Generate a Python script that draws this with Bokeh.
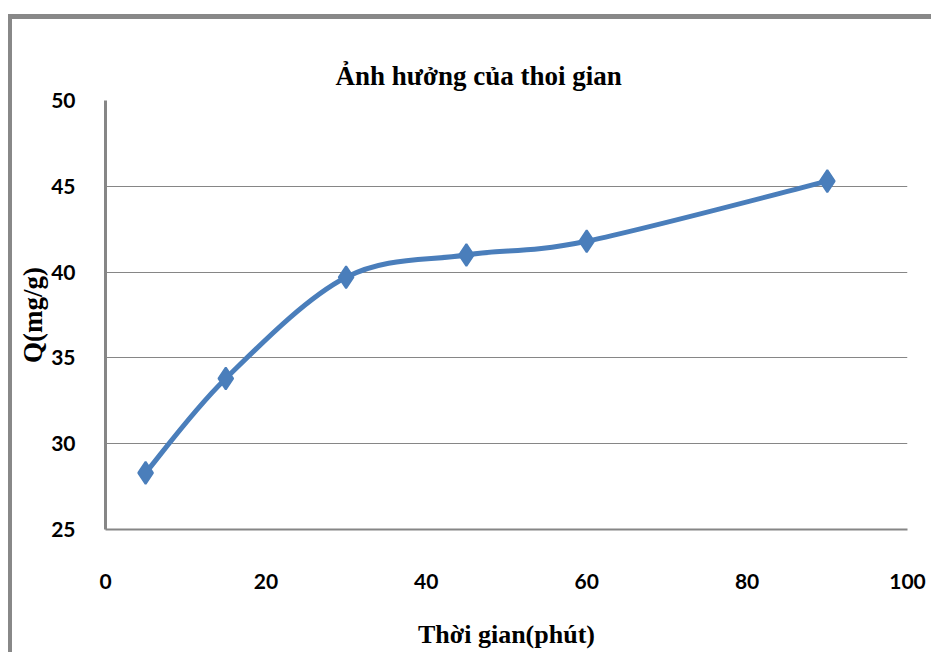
from bokeh.plotting import figure
from bokeh.models import Range1d, FixedTicker, InlineStyleSheet
from bokeh.embed import file_html
from bokeh.resources import INLINE

# Adsorption capacity over contact time
time_min = [5, 15, 30, 45, 60, 90]
q_mg_g = [28.3, 33.8, 39.7, 41.0, 41.8, 45.3]
x_ticks = [0, 20, 40, 60, 80, 100]
y_ticks = [25, 30, 35, 40, 45, 50]

BLUE = "#4a7ebb"
GRAY = "#868686"

p = figure(width=931, height=652, output_backend="svg", toolbar_location=None,
           x_range=Range1d(0, 100), y_range=Range1d(25, 50),
           min_border_left=105, min_border_right=24,
           min_border_top=100, min_border_bottom=123,
           title="Ảnh hưởng của thoi gian")
p.outline_line_color = None
p.background_fill_color = "white"
p.border_fill_color = "white"

p.title.align = "left"
p.title.offset = 230
p.title.standoff = 20
p.title.text_font = "Liberation Serif"
p.title.text_font_size = "27px"
p.title.text_font_style = "bold"
p.title.text_color = "black"

# axes
p.xaxis.ticker = FixedTicker(ticks=x_ticks)
p.yaxis.ticker = FixedTicker(ticks=y_ticks)
for ax in (p.xaxis, p.yaxis):
    ax.major_tick_line_color = None
    ax.minor_tick_line_color = None
    ax.axis_line_color = GRAY
    ax.major_label_text_font = "Lato"
    ax.major_label_text_font_size = "21px"
    ax.major_label_text_font_style = "bold"
    ax.major_label_text_color = "black"
    ax.axis_label_text_font = "Liberation Serif"
    ax.axis_label_text_font_style = "bold"
    ax.axis_label_text_color = "black"
p.xaxis.axis_label_text_font_size = "26px"
p.yaxis.axis_label_text_font_size = "27px"
p.yaxis.axis_line_width = 3
p.xaxis.axis_line_width = 2
p.yaxis.major_label_standoff = 24
p.xaxis.major_label_standoff = 38
p.xaxis.axis_label = "Thời gian(phút)"
p.yaxis.axis_label = "Q(mg/g)"
p.xaxis.axis_label_standoff = 28
p.yaxis.axis_label_standoff = 0

p.xgrid.grid_line_color = None
p.ygrid.grid_line_color = GRAY
p.ygrid.grid_line_width = 1

# smoothed curve through the points (Catmull-Rom as cubic Bezier segments)
n = len(time_min)
x0, y0, x1, y1, cx0, cy0, cx1, cy1 = ([] for _ in range(8))
for i in range(n - 1):
    pa = (time_min[max(i - 1, 0)], q_mg_g[max(i - 1, 0)])
    pb = (time_min[i], q_mg_g[i])
    pc = (time_min[i + 1], q_mg_g[i + 1])
    pd = (time_min[min(i + 2, n - 1)], q_mg_g[min(i + 2, n - 1)])
    x0.append(pb[0]); y0.append(pb[1])
    x1.append(pc[0]); y1.append(pc[1])
    cx0.append(pb[0] + (pc[0] - pa[0]) / 6); cy0.append(pb[1] + (pc[1] - pa[1]) / 6)
    cx1.append(pc[0] - (pd[0] - pb[0]) / 6); cy1.append(pc[1] - (pd[1] - pb[1]) / 6)
p.bezier(x0=x0, y0=y0, x1=x1, y1=y1, cx0=cx0, cy0=cy0, cx1=cx1, cy1=cy1,
         line_color=BLUE, line_width=5)

p.scatter(time_min, q_mg_g, marker="diamond", size=22,
          fill_color=BLUE, line_color=BLUE, line_width=2)

# gray chart-area frame along the top and left edges
p.stylesheets = [InlineStyleSheet(css="""
:host { position: relative; }
:host::after {
  content: "";
  position: absolute;
  left: 8px; top: 14px; right: 0; bottom: 0;
  border-top: 5px solid #888888;
  border-left: 4px solid #888888;
  pointer-events: none;
}
""")]

open("out.html", "w").write(file_html(p, INLINE))
